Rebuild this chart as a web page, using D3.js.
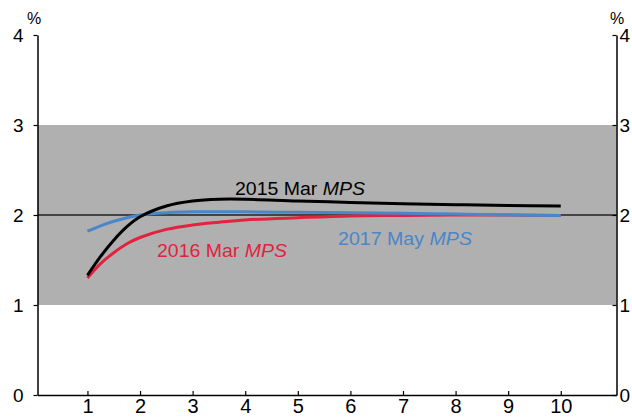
<!DOCTYPE html>
<html>
<head>
<meta charset="utf-8">
<script src="https://cdn.jsdelivr.net/npm/d3@7"></script>
<style>
  body { margin: 0; background: #fff; }
  svg { font-family: "Liberation Sans", Arial, sans-serif; }
</style>
</head>
<body>
<svg width="632" height="419"></svg>
<script>
let width = 632, height = 419;

// horizon in years and the three forecast paths (%)
var years = [1, 1.25, 1.5, 1.75, 2, 2.5, 3, 3.5, 4, 5, 6, 7, 8, 9, 10];
var mar2015 = [1.33, 1.54, 1.72, 1.87, 1.98, 2.1, 2.155, 2.175, 2.175, 2.155, 2.14, 2.125, 2.115, 2.105, 2.10];
var mar2016 = [1.30, 1.46, 1.58, 1.68, 1.75, 1.84, 1.89, 1.92, 1.945, 1.97, 1.99, 1.995, 2.0, 2.0, 1.995];
var may2017 = [1.82, 1.88, 1.93, 1.97, 2.0, 2.025, 2.035, 2.035, 2.035, 2.03, 2.025, 2.02, 2.01, 2.0, 1.995];
var xTicks = [1, 2, 3, 4, 5, 6, 7, 8, 9, 10];
var yTicks = [0, 1, 2, 3, 4];
var band = [1, 3];
var target = 2;

let svg = d3.select("svg");

var x = d3.scaleLinear().domain([0.05, 11.06]).range([37.5, 616.5]);
var y = d3.scaleLinear().domain([0, 4]).range([395, 35]);

// shaded target band
svg.append("rect")
    .attr("x", x(0.05))
    .attr("width", x(11.06) - x(0.05))
    .attr("y", y(band[1]))
    .attr("height", y(band[0]) - y(band[1]))
    .attr("fill", "#b0b0b0");

svg.append("line")
    .attr("x1", x(0.05)).attr("x2", x(11.06))
    .attr("y1", y(target)).attr("y2", y(target))
    .attr("stroke", "#222")
    .attr("stroke-width", 1.5);

var line = d3.line()
    .x((d, i) => x(years[i]))
    .y(d => y(d))
    .curve(d3.curveCatmullRom.alpha(0.5));

var series = [
    {vals: mar2016, color: "#e2223e"},
    {vals: may2017, color: "#4a86c8"},
    {vals: mar2015, color: "#000000"}
];

svg.append("g").selectAll("path")
    .data(series)
    .enter()
    .append("path")
    .attr("d", d => line(d.vals))
    .attr("fill", "none")
    .attr("stroke", d => d.color)
    .attr("stroke-width", 3);

// axes
var xAxis = svg.append("g")
    .attr("transform", "translate(0," + y(0) + ")")
    .call(d3.axisBottom(x).tickValues(xTicks).tickSize(-4).tickSizeOuter(0).tickPadding(4));
xAxis.selectAll("text").attr("font-size", 20).attr("fill", "#000");

var yLeft = svg.append("g")
    .attr("transform", "translate(" + x(0.05) + ",0)")
    .call(d3.axisLeft(y).tickValues(yTicks).tickFormat(d3.format("d")).tickSize(4).tickSizeOuter(0).tickPadding(10));
yLeft.selectAll("text").attr("font-size", 19).attr("fill", "#000");

var yRight = svg.append("g")
    .attr("transform", "translate(" + x(11.06) + ",0)")
    .call(d3.axisRight(y).tickValues(yTicks).tickFormat(d3.format("d")).tickSize(-4).tickSizeOuter(0).tickPadding(3));
yRight.selectAll("text").attr("font-size", 19).attr("fill", "#000");

svg.selectAll(".domain").attr("stroke", "#000").attr("stroke-width", 1.5);
svg.selectAll(".tick line").attr("stroke", "#000").attr("stroke-width", 1.2);

svg.append("text").attr("x", 34).attr("y", 24).attr("text-anchor", "middle")
    .attr("font-size", 16).text("%");
svg.append("text").attr("x", 617).attr("y", 24).attr("text-anchor", "middle")
    .attr("font-size", 16).text("%");

// series labels (the original is slightly stretched horizontally)
var labels = [
    {x: 235, y: 195, w: 130, color: "#000", year: "2015 Mar "},
    {x: 157, y: 257, w: 130, color: "#e2223e", year: "2016 Mar "},
    {x: 338, y: 245, w: 134, color: "#4a86c8", year: "2017 May "}
];
labels.forEach(function(l) {
    var t = svg.append("text")
        .attr("x", l.x).attr("y", l.y)
        .attr("font-size", 17.5)
        .attr("textLength", l.w)
        .attr("lengthAdjust", "spacingAndGlyphs")
        .attr("fill", l.color);
    t.append("tspan").text(l.year);
    t.append("tspan").attr("font-style", "italic").text("MPS");
});
</script>
</body>
</html>
